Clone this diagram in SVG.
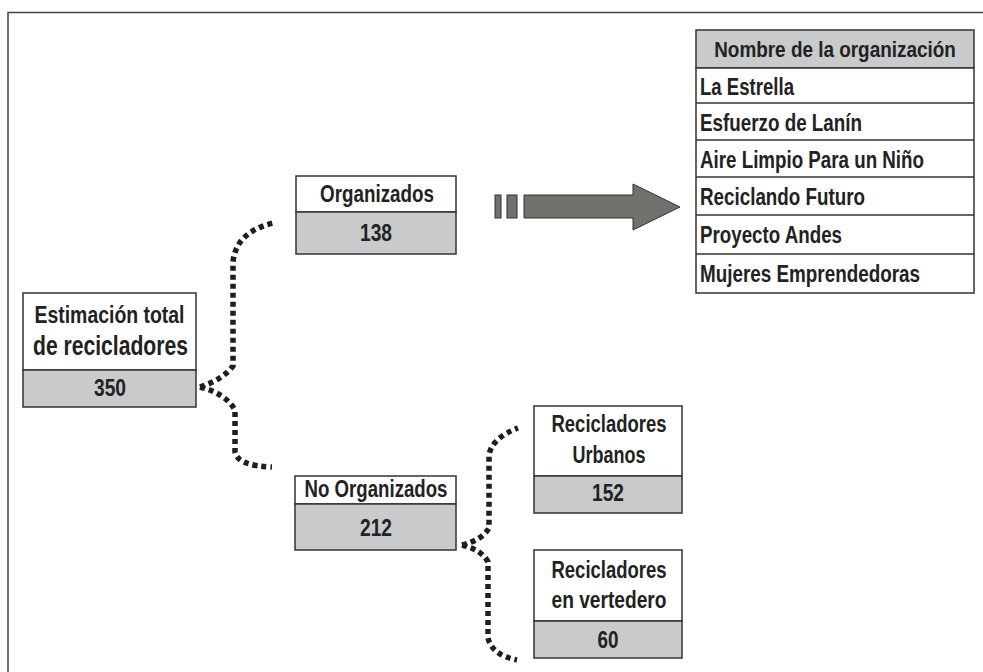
<svg xmlns="http://www.w3.org/2000/svg" width="983" height="672" viewBox="0 0 983 672">
<style>
.box{fill:#fff;stroke:#333;stroke-width:1.5}
.val{fill:#c8cacb;stroke:#333;stroke-width:1.5}
.t{font-family:"Liberation Sans Narrow","Liberation Sans",Arial,sans-serif;font-weight:bold;font-size:23px;fill:#222}
.c{text-anchor:middle}
.dot{fill:none;stroke:#1e1e1e;stroke-width:5.5;stroke-dasharray:5 4}
</style>
<rect x="8" y="12.5" width="990" height="700" fill="#fff" stroke="#444" stroke-width="1.5"/>
<g id="connectors">
<path class="dot" d="M200,387 Q222,380 233,366 L233,262 Q236,232 273,223"/>
<path class="dot" d="M200,387 Q225,393 235,410 L235,452 Q238,466 272,467"/>
<path class="dot" d="M462,545 Q482,540 489,528 L489,455 Q492,438 518,428"/>
<path class="dot" d="M462,545 Q482,550 488,562 L488,638 Q492,655 517,660"/>
</g>
<g id="arrow">
<rect x="495" y="195" width="6" height="23" fill="#6f716c" stroke="#333" stroke-width="1"/>
<rect x="507" y="195" width="10" height="23" fill="#6f716c" stroke="#333" stroke-width="1"/>
<path d="M524,195 L633,195 L633,184 L680,207 L633,230 L633,218 L524,218 Z" fill="#6f716c" stroke="#333" stroke-width="1"/>
</g>
<g id="total">
<rect class="box" x="23" y="293" width="173" height="77"/>
<rect class="val" x="23" y="370" width="173" height="37"/>
<text class="t c" x="109.5" y="323" textLength="150" lengthAdjust="spacingAndGlyphs">Estimación  total</text>
<text class="t c" x="110.5" y="355" style="font-size:27px" textLength="155" lengthAdjust="spacingAndGlyphs">de recicladores</text>
<text class="t c" x="110" y="396" textLength="32" lengthAdjust="spacingAndGlyphs">350</text>
</g>
<g id="organizados">
<rect class="box" x="296" y="176" width="160" height="36"/>
<rect class="val" x="296" y="212" width="160" height="42"/>
<text class="t c" x="377" y="202" textLength="114" lengthAdjust="spacingAndGlyphs">Organizados</text>
<text class="t c" x="376" y="241" textLength="32" lengthAdjust="spacingAndGlyphs">138</text>
</g>
<g id="no-organizados">
<rect class="box" x="295" y="476" width="161" height="28"/>
<rect class="val" x="295" y="504" width="161" height="46"/>
<text class="t c" x="376" y="497" textLength="143" lengthAdjust="spacingAndGlyphs">No Organizados</text>
<text class="t c" x="376" y="536" textLength="32" lengthAdjust="spacingAndGlyphs">212</text>
</g>
<g id="urbanos">
<rect class="box" x="534" y="406" width="148" height="70"/>
<rect class="val" x="534" y="476" width="148" height="37"/>
<text class="t c" x="609" y="432" textLength="115" lengthAdjust="spacingAndGlyphs">Recicladores</text>
<text class="t c" x="609" y="463" textLength="73" lengthAdjust="spacingAndGlyphs">Urbanos</text>
<text class="t c" x="608" y="501" textLength="32" lengthAdjust="spacingAndGlyphs">152</text>
</g>
<g id="vertedero">
<rect class="box" x="534" y="550" width="148" height="71"/>
<rect class="val" x="534" y="621" width="148" height="37"/>
<text class="t c" x="609" y="578" textLength="115" lengthAdjust="spacingAndGlyphs">Recicladores</text>
<text class="t c" x="609" y="608" textLength="115" lengthAdjust="spacingAndGlyphs">en vertedero</text>
<text class="t c" x="608" y="648" textLength="21" lengthAdjust="spacingAndGlyphs">60</text>
</g>
<g id="tabla">
<rect class="val" x="696" y="30" width="278" height="38"/>
<rect class="box" x="696" y="68" width="278" height="225"/>
<g stroke="#333" stroke-width="1.5">
<line x1="696" y1="103" x2="974" y2="103"/>
<line x1="696" y1="140" x2="974" y2="140"/>
<line x1="696" y1="177" x2="974" y2="177"/>
<line x1="696" y1="215" x2="974" y2="215"/>
<line x1="696" y1="254" x2="974" y2="254"/>
</g>
<text class="t c" transform="translate(835,57) scale(0.86,1)" x="0" y="0" style="font-size:22px">Nombre de la organización</text>
<text class="t" x="700" y="95" textLength="94" lengthAdjust="spacingAndGlyphs">La Estrella</text>
<text class="t" x="700" y="131" textLength="162" lengthAdjust="spacingAndGlyphs">Esfuerzo de Lanín</text>
<text class="t" x="700" y="168" textLength="224" lengthAdjust="spacingAndGlyphs">Aire Limpio Para un Niño</text>
<text class="t" x="700" y="205" textLength="165" lengthAdjust="spacingAndGlyphs">Reciclando Futuro</text>
<text class="t" x="700" y="243" textLength="142" lengthAdjust="spacingAndGlyphs">Proyecto Andes</text>
<text class="t" x="700" y="282" textLength="220" lengthAdjust="spacingAndGlyphs">Mujeres Emprendedoras</text>
</g>
</svg>
